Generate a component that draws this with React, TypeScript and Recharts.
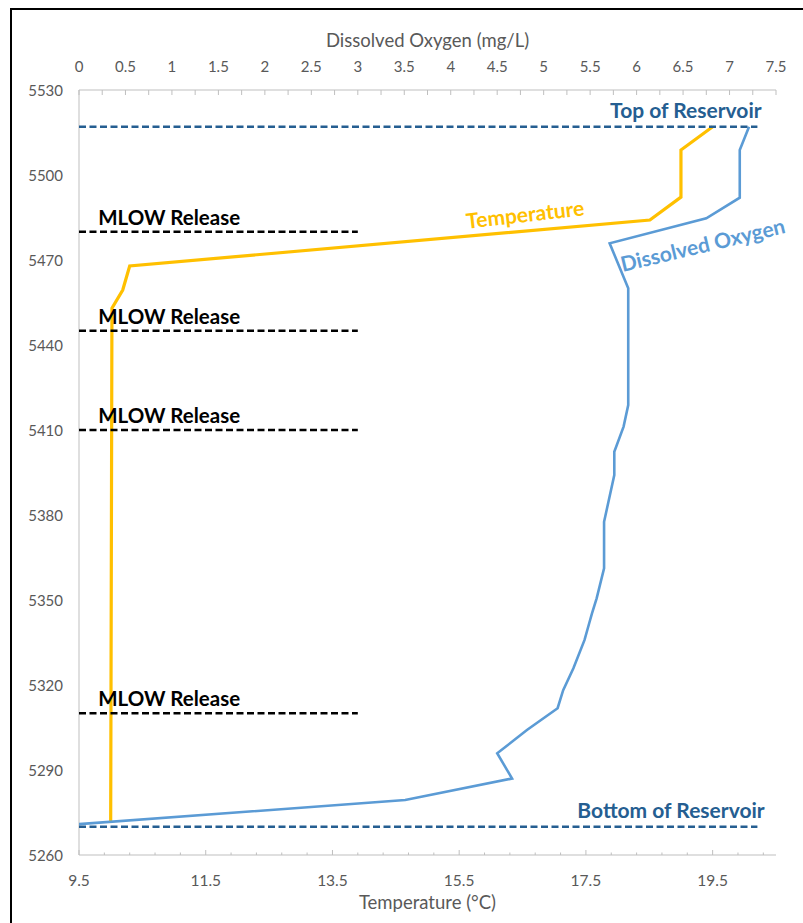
import React from 'react';
import { ScatterChart, Scatter, XAxis, YAxis, ReferenceDot, Label } from 'recharts';

// ---- data ----
const temperatureProfile = [
  { t: 19.5, e: 5517 },
  { t: 19.0, e: 5508.8 },
  { t: 19.0, e: 5492.2 },
  { t: 18.51, e: 5484.1 },
  { t: 10.3, e: 5467.9 },
  { t: 10.19, e: 5459.4 },
  { t: 10.02, e: 5453 },
  { t: 10.0, e: 5271.6 },
];

const oxygenProfile = [
  { o: 7.21, e: 5517 },
  { o: 7.11, e: 5508.8 },
  { o: 7.11, e: 5492 },
  { o: 6.75, e: 5484.7 },
  { o: 5.71, e: 5475.9 },
  { o: 5.91, e: 5460 },
  { o: 5.91, e: 5418.8 },
  { o: 5.86, e: 5411.2 },
  { o: 5.76, e: 5402.3 },
  { o: 5.76, e: 5394.1 },
  { o: 5.65, e: 5377.6 },
  { o: 5.65, e: 5361.2 },
  { o: 5.57, e: 5350.6 },
  { o: 5.52, e: 5345.3 },
  { o: 5.49, e: 5341.8 },
  { o: 5.44, e: 5335.9 },
  { o: 5.32, e: 5325.9 },
  { o: 5.21, e: 5318.2 },
  { o: 5.15, e: 5311.8 },
  { o: 4.82, e: 5304.1 },
  { o: 4.5, e: 5295.9 },
  { o: 4.66, e: 5287 },
  { o: 3.51, e: 5279.4 },
  { o: 0.0, e: 5270.9 },
];

const mlowReleaseLevels = [5480, 5445, 5410, 5310];
const mlowSpan = [0, 3];
const reservoirTop = 5517;
const reservoirBottom = 5270;
const reservoirSpan = [0, 7.3];

const elevationTicks = [5260, 5290, 5320, 5350, 5380, 5410, 5440, 5470, 5500, 5530];
const oxygenMajorTicks = [0, 0.5, 1, 1.5, 2, 2.5, 3, 3.5, 4, 4.5, 5, 5.5, 6, 6.5, 7, 7.5];
const oxygenMinorTicks = [0.25, 0.75, 1.25, 1.75, 2.25, 2.75, 3.25, 3.75, 4.25, 4.75, 5.25, 5.75, 6.25, 6.75, 7.25];
const temperatureMajorTicks = [9.5, 11.5, 13.5, 15.5, 17.5, 19.5];
const temperatureMinorTicks = [9.9, 10.3, 10.7, 11.1, 11.9, 12.3, 12.7, 13.1, 13.9, 14.3, 14.7, 15.1, 15.9, 16.3, 16.7, 17.1, 17.9, 18.3, 18.7, 19.1, 19.9, 20.3];

// annotation anchors in data units (DO axis / elevation)
const annotations = [
  { text: 'Top of Reservoir', o: 6.53, e: 5523, kind: 'reservoir', angle: 0 },
  { text: 'Bottom of Reservoir', o: 6.37, e: 5276, kind: 'reservoir', angle: 0 },
  { text: 'Temperature', o: 4.8, e: 5486.4, kind: 'temp', angle: -6.5 },
  { text: 'Dissolved Oxygen', o: 6.71, e: 5475.6, kind: 'do', angle: -13.5 },
];
const mlowLabelCenter = 0.97;
const mlowLabelLift = 5.3;

// ---- styles ----
const FONT = "Lato, 'Open Sans', sans-serif";
const AXIS = '#BFBFBF';
const TICK = '#595959';
const ORANGE = '#FFC000';
const BLUE = '#5B9BD5';
const DARK = '#255E91';
const TOP_M = 24;
const BOT_M = 25;
const LEFT_M = 16;

const near = (v: number, arr: number[]) => arr.some((a) => Math.abs(a - v) < 1e-6);

const TopTick = (props: any) => {
  const { x, y, payload } = props;
  const v = payload.value;
  const axisY = y + TOP_M;
  return (
    <g>
      <line x1={x} x2={x} y1={axisY} y2={axisY + 5} stroke={AXIS} strokeWidth={1} />
      {near(v, oxygenMajorTicks) && (
        <text x={x} y={y} textAnchor="middle" dominantBaseline="central" fill={TICK} fontSize={15} fontFamily={FONT}>
          {String(v)}
        </text>
      )}
    </g>
  );
};

const BottomTick = (props: any) => {
  const { x, y, payload } = props;
  const v = payload.value;
  const axisY = y - BOT_M;
  const major = near(v, temperatureMajorTicks);
  return (
    <g>
      <line x1={x} x2={x} y1={axisY} y2={axisY - (major ? 5 : 2.5)} stroke={AXIS} strokeWidth={1} />
      {major && (
        <text x={x} y={y} textAnchor="middle" dominantBaseline="central" fill={TICK} fontSize={15.5} fontFamily={FONT}>
          {String(v)}
        </text>
      )}
    </g>
  );
};

const LeftTick = (props: any) => {
  const { x, y, payload } = props;
  return (
    <text x={x} y={y} textAnchor="end" dominantBaseline="central" fill={TICK} fontSize={15} fontFamily={FONT}>
      {String(payload.value)}
    </text>
  );
};

const noShape = () => <g />;

const colorOf = (kind: string) => (kind === 'reservoir' ? DARK : kind === 'temp' ? ORANGE : BLUE);

export default function App() {
  const allOxygenTicks = [...oxygenMajorTicks, ...oxygenMinorTicks].sort((a, b) => a - b);
  const allTempTicks = [...temperatureMajorTicks, ...temperatureMinorTicks].sort((a, b) => a - b);
  return (
    <div style={{ position: 'absolute', left: 0, top: 0, width: 803, height: 923, overflow: 'hidden', background: '#fff' }}>
      <div
        style={{
          position: 'absolute',
          left: 10,
          top: 8,
          width: 1000,
          height: 1000,
          borderLeft: '2.5px solid #000',
          borderTop: '2.5px solid #000',
        }}
      />
      <div style={{ position: 'absolute', left: 0, top: 0 }}>
        <ScatterChart width={803} height={923} margin={{ top: 0, right: 27, bottom: 0, left: 0 }}>
          <XAxis
            xAxisId="do"
            orientation="top"
            type="number"
            dataKey="o"
            domain={[0, 7.5]}
            ticks={allOxygenTicks}
            interval={0}
            height={90}
            tickSize={0}
            tickMargin={TOP_M}
            tickLine={false}
            axisLine={{ stroke: AXIS, strokeWidth: 1 }}
            tick={<TopTick />}
            allowDataOverflow
          >
            <Label
              content={(p: any) => (
                <text
                  x={p.viewBox.x + p.viewBox.width / 2}
                  y={p.viewBox.y + 40}
                  textAnchor="middle"
                  dominantBaseline="central"
                  fill={TICK}
                  fontSize={18.5}
                  fontFamily={FONT}
                >
                  Dissolved Oxygen (mg/L)
                </text>
              )}
            />
          </XAxis>
          <XAxis
            xAxisId="temp"
            orientation="bottom"
            type="number"
            dataKey="t"
            domain={[9.5, 20.5]}
            ticks={allTempTicks}
            interval={0}
            height={68}
            tickSize={0}
            tickMargin={BOT_M}
            tickLine={false}
            axisLine={{ stroke: AXIS, strokeWidth: 1 }}
            tick={<BottomTick />}
            allowDataOverflow
          >
            <Label
              content={(p: any) => (
                <text
                  x={p.viewBox.x + p.viewBox.width / 2}
                  y={p.viewBox.y + 47}
                  textAnchor="middle"
                  dominantBaseline="central"
                  fill={TICK}
                  fontSize={18.5}
                  fontFamily={FONT}
                >
                  Temperature (°C)
                </text>
              )}
            />
          </XAxis>
          <YAxis
            type="number"
            dataKey="e"
            domain={[5260, 5530]}
            ticks={elevationTicks}
            interval={0}
            width={79}
            tickSize={0}
            tickMargin={LEFT_M}
            tickLine={false}
            axisLine={{ stroke: AXIS, strokeWidth: 1 }}
            tick={<LeftTick />}
            allowDataOverflow
          />

          <Scatter
            xAxisId="temp"
            data={temperatureProfile}
            line={{ stroke: ORANGE, strokeWidth: 3.2 }}
            lineType="joint"
            shape={noShape}
            isAnimationActive={false}
          />
          <Scatter
            xAxisId="do"
            data={oxygenProfile}
            line={{ stroke: BLUE, strokeWidth: 2.6 }}
            lineType="joint"
            shape={noShape}
            isAnimationActive={false}
          />

          {mlowReleaseLevels.map((lvl) => (
            <Scatter
              key={'m' + lvl}
              xAxisId="do"
              data={[{ o: mlowSpan[0], e: lvl }, { o: mlowSpan[1], e: lvl }]}
              line={{ stroke: '#000', strokeWidth: 2.5, strokeDasharray: '7 3.5' }}
              lineType="joint"
              shape={noShape}
              isAnimationActive={false}
            />
          ))}
          {[reservoirTop, reservoirBottom].map((lvl) => (
            <Scatter
              key={'r' + lvl}
              xAxisId="do"
              data={[{ o: reservoirSpan[0], e: lvl }, { o: reservoirSpan[1], e: lvl }]}
              line={{ stroke: DARK, strokeWidth: 2.5, strokeDasharray: '7 3.5' }}
              lineType="joint"
              shape={noShape}
              isAnimationActive={false}
            />
          ))}

          {mlowReleaseLevels.map((lvl) => (
            <ReferenceDot
              key={'ml' + lvl}
              xAxisId="do"
              x={mlowLabelCenter}
              y={lvl + mlowLabelLift}
              r={0}
              shape={(p: any) => (
                <text
                  x={p.cx}
                  y={p.cy}
                  textAnchor="middle"
                  dominantBaseline="central"
                  fill="#000"
                  fontSize={20.5}
                  fontWeight="bold"
                  fontFamily={FONT}
                >
                  MLOW Release
                </text>
              )}
            />
          ))}
          {annotations.map((a) => (
            <ReferenceDot
              key={a.text}
              xAxisId="do"
              x={a.o}
              y={a.e}
              r={0}
              shape={(p: any) => (
                <text
                  x={p.cx}
                  y={p.cy}
                  textAnchor="middle"
                  dominantBaseline="central"
                  fill={colorOf(a.kind)}
                  fontSize={21}
                  fontWeight="bold"
                  fontFamily={FONT}
                  transform={`rotate(${a.angle} ${p.cx} ${p.cy})`}
                >
                  {a.text}
                </text>
              )}
            />
          ))}
        </ScatterChart>
      </div>
    </div>
  );
}
